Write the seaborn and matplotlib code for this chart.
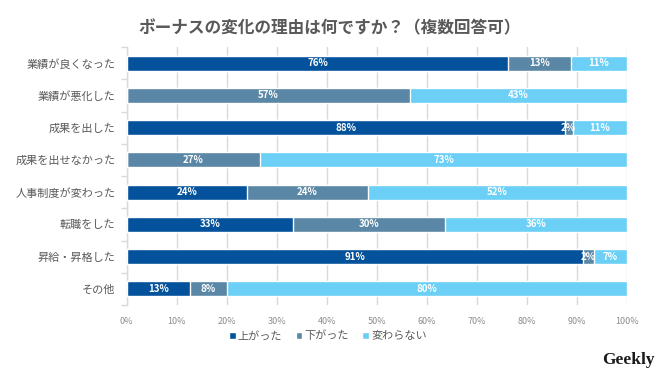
import numpy as np
import pandas as pd
import matplotlib
matplotlib.use("Agg")
import matplotlib.pyplot as plt
import seaborn as sns

# ==========================================
# 1. DATA
# ==========================================
categories = ["業績が良くなった", "業績が悪化した", "成果を出した", "成果を出せなかった",
              "人事制度が変わった", "転職をした", "昇給・昇格した", "その他"]
series_names = ["上がった", "下がった", "変わらない"]
up = [76.3, 0.0, 87.6, 0.0, 24.1, 33.3, 91.2, 12.6]
down = [12.6, 56.6, 1.6, 26.7, 24.1, 30.4, 2.2, 7.5]
same = [11.1, 43.4, 10.8, 73.3, 51.8, 36.3, 6.6, 79.9]
x_ticks = [0, 10, 20, 30, 40, 50, 60, 70, 80, 90, 100]
title = "ボーナスの変化の理由は何ですか？（複数回答可）"

colors = ["#03529B", "#5B87A6", "#6BCFF6"]

df = pd.DataFrame({"category": categories, "上がった": up, "下がった": down, "変わらない": same})

# ==========================================
# 2. PLOT
# ==========================================
sns.set_theme(style="white")
plt.rcParams["font.family"] = ["Noto Sans CJK JP", "DejaVu Sans"]

fig = plt.figure(figsize=(6.6, 3.71), dpi=100)
ax = fig.add_axes([126.7 / 660, 1 - 305 / 371, 500 / 660, 258 / 371])

# stacked bars: draw cumulative totals from widest to narrowest
cum = df[series_names].cumsum(axis=1)
for name, col in reversed(list(zip(series_names, colors))):
    sns.barplot(x=cum[name], y=df["category"], color=col, orient="h",
                width=0.46, ax=ax, saturation=1, label=name, zorder=3)

# labels in the middle of each segment
for i in range(len(categories)):
    left = 0
    for name in series_names:
        v = df[name][i]
        if v > 0:
            ax.text(left + v / 2, i, f"{v:.0f}%", ha="center", va="center",
                    color="white", fontsize=7, fontweight="bold", zorder=5)
        left += v

ax.set_xlim(0, 100)
ax.set_ylim(7.5, -0.5)
ax.set_xticks(x_ticks)
ax.set_xticklabels([f"{t}%" for t in x_ticks])
ax.set_xlabel("")
ax.set_ylabel("")
ax.xaxis.grid(True, color="#D9D9D9", linewidth=1, zorder=0)
ax.set_axisbelow(True)

for s in ["top", "right", "bottom"]:
    ax.spines[s].set_visible(False)
ax.spines["left"].set_color("#D9D9D9")
ax.spines["left"].set_linewidth(1)

ax.tick_params(axis="x", length=0, labelsize=6.5, labelcolor="#8C8C8C", pad=9)
ax.tick_params(axis="y", which="major", length=0, labelsize=8, labelcolor="#595959", pad=8)
ax.set_yticks(np.arange(-0.5, 8, 1), minor=True)
ax.tick_params(axis="y", which="minor", length=4, color="#D9D9D9", width=1, left=True)

# legend in series order
handles, labels = ax.get_legend_handles_labels()
order = [labels.index(n) for n in series_names]
fig.legend([handles[k] for k in order], series_names, loc="center",
           bbox_to_anchor=(0.497, 1 - 336 / 371), ncol=3, frameon=False,
           fontsize=8, labelcolor="#595959", handlelength=0.6, handleheight=0.6,
           handletextpad=0.2, columnspacing=1.2)
if ax.get_legend() is not None:
    ax.get_legend().remove()

fig.text(0.5, 1 - 28 / 371, title, ha="center", va="center",
         fontsize=12, fontweight="bold", color="#595959")
fig.text(655 / 660, 1 - 360 / 371, "Geekly", ha="right", va="center",
         fontsize=12.5, fontweight="bold", color="#1A1A1A", family="Liberation Serif")

fig.savefig("out.png", dpi=100)
plt.close()
